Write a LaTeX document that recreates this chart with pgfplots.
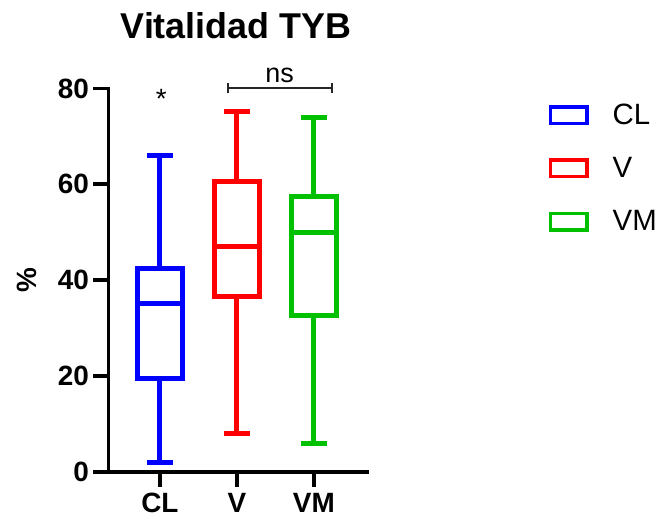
\documentclass[border=0pt]{standalone}
\usepackage{pgfplots}
\pgfplotsset{compat=1.18}
\usepgfplotslibrary{statistics}
\usepackage{fontspec}
\setmainfont{Liberation Sans}
\definecolor{clblue}{RGB}{0,0,255}
\definecolor{vred}{RGB}{255,0,0}
\definecolor{vmgreen}{RGB}{0,192,0}
\begin{document}
\begin{tikzpicture}
\useasboundingbox (0,0) rectangle (660bp,520bp);
\node[anchor=base, font=\fontsize{36}{42}\selectfont\bfseries] at (236bp,481bp) {Vitalidad TYB};
\begin{axis}[
  at={(108.5bp,48bp)}, anchor=south west,
  scale only axis, width=258.2bp, height=383.5bp,
  xmin=-0.667, xmax=2.686, ymin=0, ymax=80,
  axis x line*=bottom, axis y line*=left,
  axis line style={line width=3.8bp, line cap=rect, -},
  xtick={0,1,2}, xticklabels={CL,V,VM},
  ytick={0,20,40,60,80},
  tick align=outside, major tick length=15bp,
  tick style={line width=3.8bp, black},
  ticklabel style={font=\fontsize{28}{33}\selectfont\bfseries},
  xticklabel style={yshift=-2.5bp},
  yticklabel style={xshift=-1bp},
  /pgf/number format/assume math mode=true,
  ylabel={\%},
  ylabel style={font=\fontsize{28}{33}\selectfont\bfseries, at={(axis description cs:-0.3176,0.5)}, anchor=center},
  clip=false,
  legend style={at={(axis description cs:1.706,0.9596)}, anchor=north west,
    draw=none, fill=none, inner sep=0pt, outer sep=0pt,
    font=\fontsize{29.5}{34}\selectfont, row sep=31.5bp,
    nodes={inner sep=0pt}},
  legend cell align=left,
  /tikz/every odd column/.append style={column sep=23.7bp},
  boxplot/draw direction=y,
  boxplot/box extend=0.584,
  boxplot/whisker extend=0.334,
]
% CL
\addplot[forget plot, draw=clblue, line width=5bp, line join=miter, solid, mark=none,
  boxplot prepared={draw position=0, lower whisker=2, lower quartile=19.6,
    median=35.1, upper quartile=42.5, upper whisker=66}] coordinates {};
% V
\addplot[forget plot, draw=vred, line width=5bp, line join=miter, solid, mark=none,
  boxplot prepared={draw position=1, lower whisker=8, lower quartile=36.7,
    median=47.1, upper quartile=60.5, upper whisker=75.1}] coordinates {};
% VM
\addplot[forget plot, draw=vmgreen, line width=5bp, line join=miter, solid, mark=none,
  boxplot prepared={draw position=2, lower whisker=6, lower quartile=32.7,
    median=50, upper quartile=57.4, upper whisker=74}] coordinates {};

\addlegendimage{draw=clblue, line width=3.5bp, legend image code/.code={\draw[line join=miter] (0bp,-8.25bp) rectangle (36.5bp,8.25bp);}}
\addlegendentry{CL}
\addlegendimage{draw=vred, line width=3.5bp, legend image code/.code={\draw[line join=miter] (0bp,-8.25bp) rectangle (36.5bp,8.25bp);}}
\addlegendentry{V}
\addlegendimage{draw=vmgreen, line width=3.5bp, legend image code/.code={\draw[line join=miter] (0bp,-8.25bp) rectangle (36.5bp,8.25bp);}}
\addlegendentry{VM}

% significance marks
\node[anchor=base, font=\fontsize{28}{33}\selectfont] at (axis cs:0.02,75.9) {*};
\draw[line width=2bp, black!85] (axis cs:0.89,79) -- (axis cs:0.89,81.2);
\draw[line width=2bp, black!85] (axis cs:0.89,80) -- (axis cs:2.24,80);
\draw[line width=2bp, black!85] (axis cs:2.24,79) -- (axis cs:2.24,81.2);
\node[anchor=base, font=\fontsize{27}{32}\selectfont] at (axis cs:1.555,81.2) {ns};
\end{axis}
\end{tikzpicture}
\end{document}
